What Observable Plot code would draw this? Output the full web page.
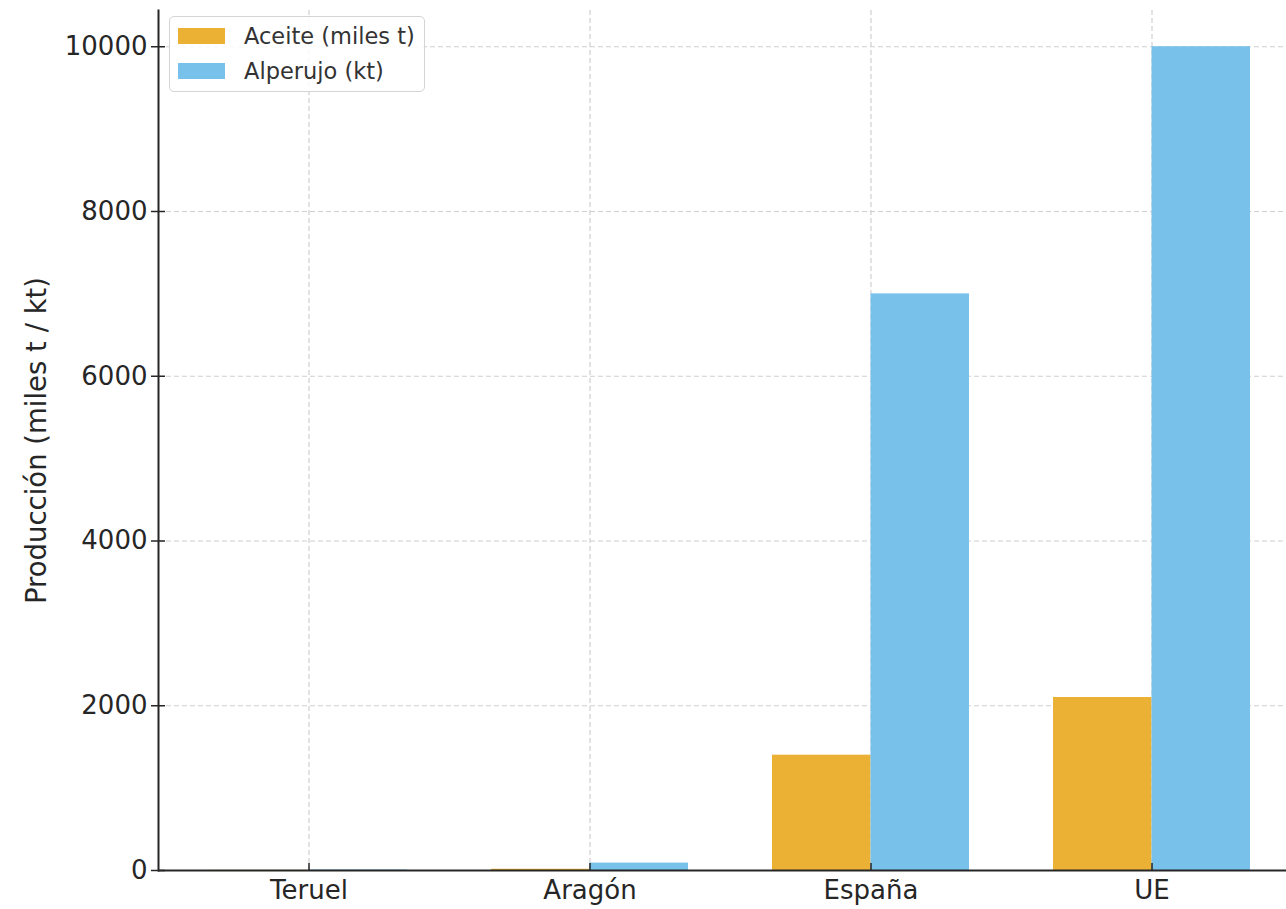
<!DOCTYPE html>
<html>
<head>
<meta charset="utf-8">
<script src="https://cdn.jsdelivr.net/npm/d3@7"></script>
<script src="https://cdn.jsdelivr.net/npm/@observablehq/plot@0.6"></script>
<style>
  html, body { margin: 0; padding: 0; background: #fff; overflow: hidden; }
  #wrap { position: relative; width: 1286px; height: 909px; font-family: "DejaVu Sans", sans-serif; }
  #legend { position: absolute; left: 169px; top: 16px; width: 256px; height: 76px; box-sizing: border-box;
    border: 1.5px solid #d4d4d4; border-radius: 5px; background: rgba(255,255,255,0.85); }
  .item { position: absolute; left: 8px; display: flex; align-items: center; }
  .sw { width: 47px; height: 16px; margin-right: 19px; }
  .lab { font-size: 22.5px; color: #333; white-space: nowrap; }
</style>
</head>
<body>
<div id="wrap"></div>
<script>
const categories = ["Teruel", "Aragón", "España", "UE"];
const aceite = [1.5, 15, 1400, 2100];      // miles t
const alperujo = [6, 90, 7000, 10000];     // kt
const seriesNames = ["Aceite (miles t)", "Alperujo (kt)"];
const yTicks = [0, 2000, 4000, 6000, 8000, 10000];
const yLabel = "Producción (miles t / kt)";

const colors = ["#EBB134", "#78C1EB"];
const W = 1286, H = 909, mL = 158, mR = -15, mT = 10, mB = 39;
const padIn = 0.3, padOut = 0.18;
const yMax = 10440;

const rows = categories.map((c, i) => ({region: c, aceite: aceite[i], alperujo: alperujo[i]}));
const bw = d3.scaleBand().domain(categories).range([mL, W - mR]).paddingInner(padIn).paddingOuter(padOut).bandwidth();

const gridStyle = {stroke: "#cfcfcf", strokeOpacity: 1, strokeWidth: 1.2, strokeDasharray: "5,3"};
const ink = "#262626";

const chart = Plot.plot({
  width: W, height: H,
  marginLeft: mL, marginRight: mR, marginTop: mT, marginBottom: mB,
  style: {fontFamily: "DejaVu Sans", color: ink, background: "transparent", overflow: "visible"},
  x: {domain: categories, paddingInner: padIn, paddingOuter: padOut},
  y: {domain: [0, yMax]},
  marks: [
    Plot.gridY(yTicks, gridStyle),
    Plot.gridX(categories, gridStyle),
    Plot.barY(rows, {x: "region", y: "aceite", fill: colors[0], insetRight: bw / 2}),
    Plot.barY(rows, {x: "region", y: "alperujo", fill: colors[1], insetLeft: bw / 2}),
    Plot.ruleY([0], {stroke: ink, strokeWidth: 2}),
    Plot.frame({anchor: "left", stroke: ink, strokeWidth: 2}),
    Plot.axisY(yTicks, {tickSize: 14, dx: 7, tickFormat: () => "", label: null, strokeWidth: 1.5}),
    Plot.axisY(yTicks, {tickSize: 0, tickPadding: 11, tickFormat: d => String(d), fontSize: 26, label: null}),
    Plot.axisX(categories, {tickSize: 7, dy: -7, tickFormat: () => "", label: null, strokeWidth: 1.5}),
    Plot.axisX(categories, {tickSize: 0, tickPadding: 10, fontSize: 26, label: null}),
    Plot.text([yLabel], {frameAnchor: "left", rotate: -90, dx: -121, textAnchor: "middle", lineAnchor: "middle", fontSize: 27.5, fill: ink})
  ]
});

const wrap = document.getElementById("wrap");
wrap.appendChild(chart);

const legend = document.createElement("div");
legend.id = "legend";
seriesNames.forEach((name, i) => {
  const item = document.createElement("div");
  item.className = "item";
  item.style.top = (i === 0 ? 6 : 41) + "px";
  const sw = document.createElement("div");
  sw.className = "sw";
  sw.style.background = colors[i];
  const lab = document.createElement("span");
  lab.className = "lab";
  lab.textContent = name;
  item.appendChild(sw);
  item.appendChild(lab);
  legend.appendChild(item);
});
wrap.appendChild(legend);
</script>
</body>
</html>
